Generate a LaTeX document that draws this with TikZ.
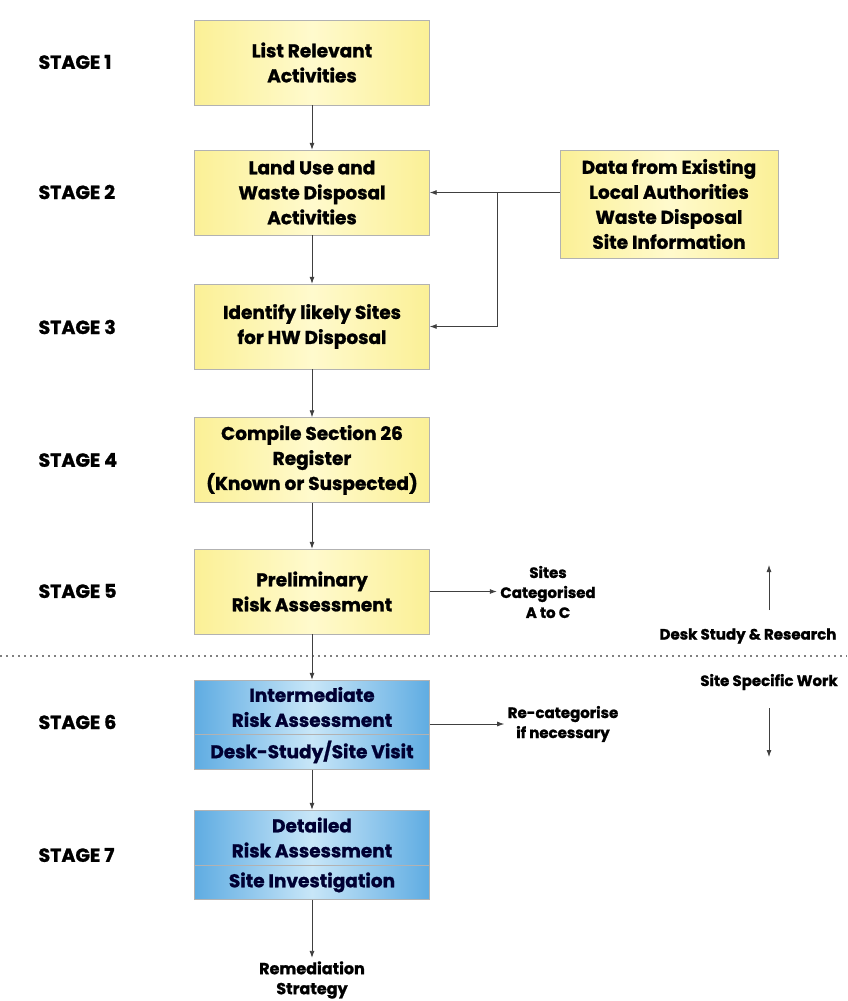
\documentclass[tikz,border=0pt]{standalone}
\usepackage{fontspec}
\setmainfont{Poppins}[BoldFeatures={FakeBold=1.2}]
\usetikzlibrary{positioning,arrows.meta}
\definecolor{boxyellow}{RGB}{251,240,150}
\definecolor{paleyellow}{RGB}{255,250,205}
\definecolor{boxblue}{RGB}{95,172,226}
\definecolor{paleblue}{RGB}{200,230,248}
\tikzset{
  yellowbox/.style={draw=gray!60, left color=boxyellow, right color=boxyellow, middle color=paleyellow,
    minimum width=235pt, minimum height=85pt, inner sep=0pt, align=center,
    font=\bfseries\fontsize{18.5}{25}\selectfont},
  bluebox/.style={draw=gray!60, left color=boxblue, right color=boxblue, middle color=paleblue,
    minimum width=235pt, inner sep=0pt, align=center, text=black!80!blue,
    font=\bfseries\fontsize{18.5}{25}\selectfont},
  stage/.style={anchor=west, font=\bfseries\fontsize{19}{20}\selectfont},
  side/.style={align=center, font=\bfseries\fontsize{15}{20}\selectfont},
  arrow/.style={-{Latex[length=7pt,width=5pt]}, black!75, thick}
}
\begin{document}
\begin{tikzpicture}[x=1pt, y=-1pt]
\useasboundingbox (0,0) rectangle (847,1001);

% stages
\foreach \n/\y in {1/62, 2/192, 3/327, 4/460, 5/591, 6/722, 7/855}
   \node[stage] (stage\n) at (35,\y) {STAGE \n};

% boxes
\node[yellowbox] (list) at (312,62.5) {List Relevant\\Activities};
\node[yellowbox] (land) at (312,192.5) {Land Use and\\Waste Disposal\\Activities};
\node[yellowbox] (sites) at (312,326.5) {Identify likely Sites\\for HW Disposal};
\node[yellowbox] (register) at (312,460) {Compile Section 26\\Register\\(Known or Suspected)};
\node[yellowbox] (prelim) at (312,591.5) {Preliminary\\Risk Assessment};
\node[yellowbox, minimum width=218pt, minimum height=108pt] (data) at (669,204)
   {Data from Existing\\Local Authorities\\Waste Disposal\\Site Information};

\node[bluebox, minimum height=54pt] (inter) at (312,707) {Intermediate\\Risk Assessment};
\node[bluebox, minimum height=35pt, below=0pt of inter] (visit) {Desk-Study/Site Visit};
\node[bluebox, minimum height=55pt] (detail) at (312,837.5) {Detailed\\Risk Assessment};
\node[bluebox, minimum height=34pt, below=0pt of detail] (invest) {Site Investigation};

\node[side, font=\bfseries\fontsize{16}{20}\selectfont] (remed) at (312,980) {Remediation\\Strategy};

% side notes
\node[side] (categ) at (548,592) {Sites\\Categorised\\A to C};
\node[side] (recat) at (563,724) {Re-categorise\\if necessary};
\node[side] (desk) at (748,636) {Desk Study \& Research};
\node[side] (work) at (769,682) {Site Specific Work};

\draw[gray, line width=1.5pt, dash pattern=on 1.5pt off 4.5pt] (0,656) -- (847,656);

% flow
\draw[arrow] (list) -- (land);
\draw[arrow] (land) -- (sites);
\draw[arrow] (sites) -- (register);
\draw[arrow] (register) -- (prelim);
\draw[arrow] (prelim) -- (inter);
\draw[arrow] (visit) -- (detail);
\draw[arrow] (invest) -- (remed);

\draw[arrow] (data.west |- land.east) -- (land.east);
\coordinate (split) at (497,192.5);
\draw[arrow] (split) |- (sites.east);

\draw[arrow] (prelim.east) -- (categ.west |- prelim.east);
\draw[arrow] (recat.west -| visit.north east) -- (recat.west);

\coordinate (uptail) at (769,610);
\coordinate (uphead) at (769,565);
\coordinate (downtail) at (769,708);
\coordinate (downhead) at (769,757);
\draw[arrow] (uptail) -- (uphead);
\draw[arrow] (downtail) -- (downhead);
\end{tikzpicture}
\end{document}
